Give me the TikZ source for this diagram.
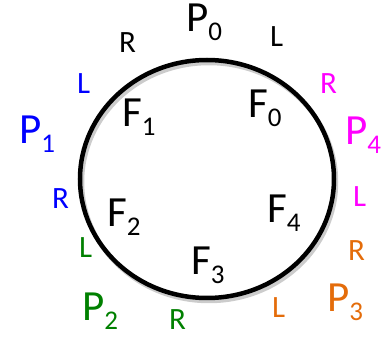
\documentclass[tikz,border=0pt]{standalone}
\usepackage{fontspec}
\setmainfont{Carlito}
\definecolor{pblue}{RGB}{0,0,255}
\definecolor{pmagenta}{RGB}{255,0,255}
\definecolor{pgreen}{RGB}{0,128,0}
\definecolor{porange}{RGB}{228,108,10}
\newcommand{\psub}[2]{#1\raisebox{-9pt}{\fontsize{27}{27}\selectfont #2}}
\tikzset{
  big/.style={font=\fontsize{43}{43}\selectfont, anchor=base west, inner sep=0pt},
  side/.style={font=\fontsize{31}{31}\selectfont, anchor=base west, inner sep=0pt}
}

\begin{document}
\begin{tikzpicture}[x=1pt, y=-1pt]
\useasboundingbox (0,0) rectangle (392,337);
% ring with a soft shadow
\draw[black!20, line width=4.5pt] (209,182) ellipse [x radius=127, y radius=119];
\draw[line width=4.5pt] (207,179) ellipse [x radius=127, y radius=119];
% players
\node[big] (p0) at (186,32) {\psub{P}{0}};
\node[big, pblue] (p1) at (19,144) {\psub{P}{1}};
\node[big, pgreen] (p2) at (82,321) {\psub{P}{2}};
\node[big, porange] (p3) at (327,312) {\psub{P}{3}};
\node[big, pmagenta] (p4) at (345,145) {\psub{P}{4}};
% forks
\node[big] (f0) at (248,118) {\psub{F}{0}};
\node[big] (f1) at (122,127) {\psub{F}{1}};
\node[big] (f2) at (107,227) {\psub{F}{2}};
\node[big] (f3) at (191,275) {\psub{F}{3}};
\node[big] (f4) at (267,223) {\psub{F}{4}};
% left and right hands
\node[side] (l0) at (270,47) {L};
\node[side] (r0) at (119,53) {R};
\node[side, pblue] (l1) at (77,94) {L};
\node[side, pblue] (r1) at (52,209) {R};
\node[side, pgreen] (l2) at (79,258) {L};
\node[side, pgreen] (r2) at (169,330) {R};
\node[side, porange] (l3) at (272,318) {L};
\node[side, porange] (r3) at (348,261) {R};
\node[side, pmagenta] (l4) at (353,207) {L};
\node[side, pmagenta] (r4) at (320,94) {R};
\end{tikzpicture}
\end{document}
